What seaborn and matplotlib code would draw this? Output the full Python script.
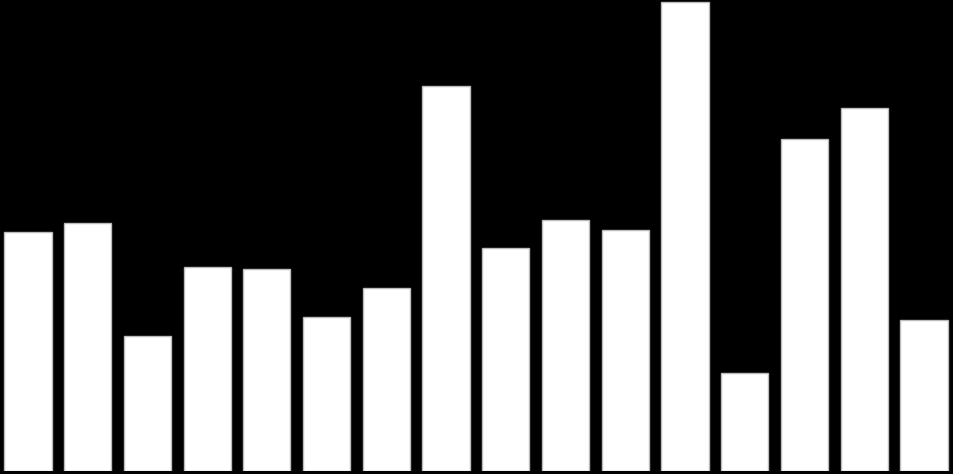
import pandas as pd
import matplotlib
matplotlib.use("Agg")
import matplotlib.pyplot as plt
import seaborn as sns

sns.set_theme(style="dark")

# values (bar heights, arbitrary units)
labels = [f"b{i}" for i in range(1, 17)]
values = [239, 248, 135, 204, 202, 154, 183, 385, 223, 251, 241, 469, 98, 332, 363, 151]

data = pd.DataFrame({"label": labels, "value": values})

fig = plt.figure(figsize=(9.54, 4.74), dpi=100, facecolor="black")
ax = fig.add_axes([-1.9 / 954, 3 / 474, 955.7 / 954, 471 / 474])
ax.set_facecolor("black")

sns.barplot(data=data, x="label", y="value", color="white", saturation=1,
            width=0.79, edgecolor="#bbbbbb", linewidth=1, ax=ax)

ax.set_xlim(-0.5, 15.5)
ax.set_ylim(0, 471)
ax.set_axis_off()

fig.savefig("out.png", dpi=100, facecolor="black")
